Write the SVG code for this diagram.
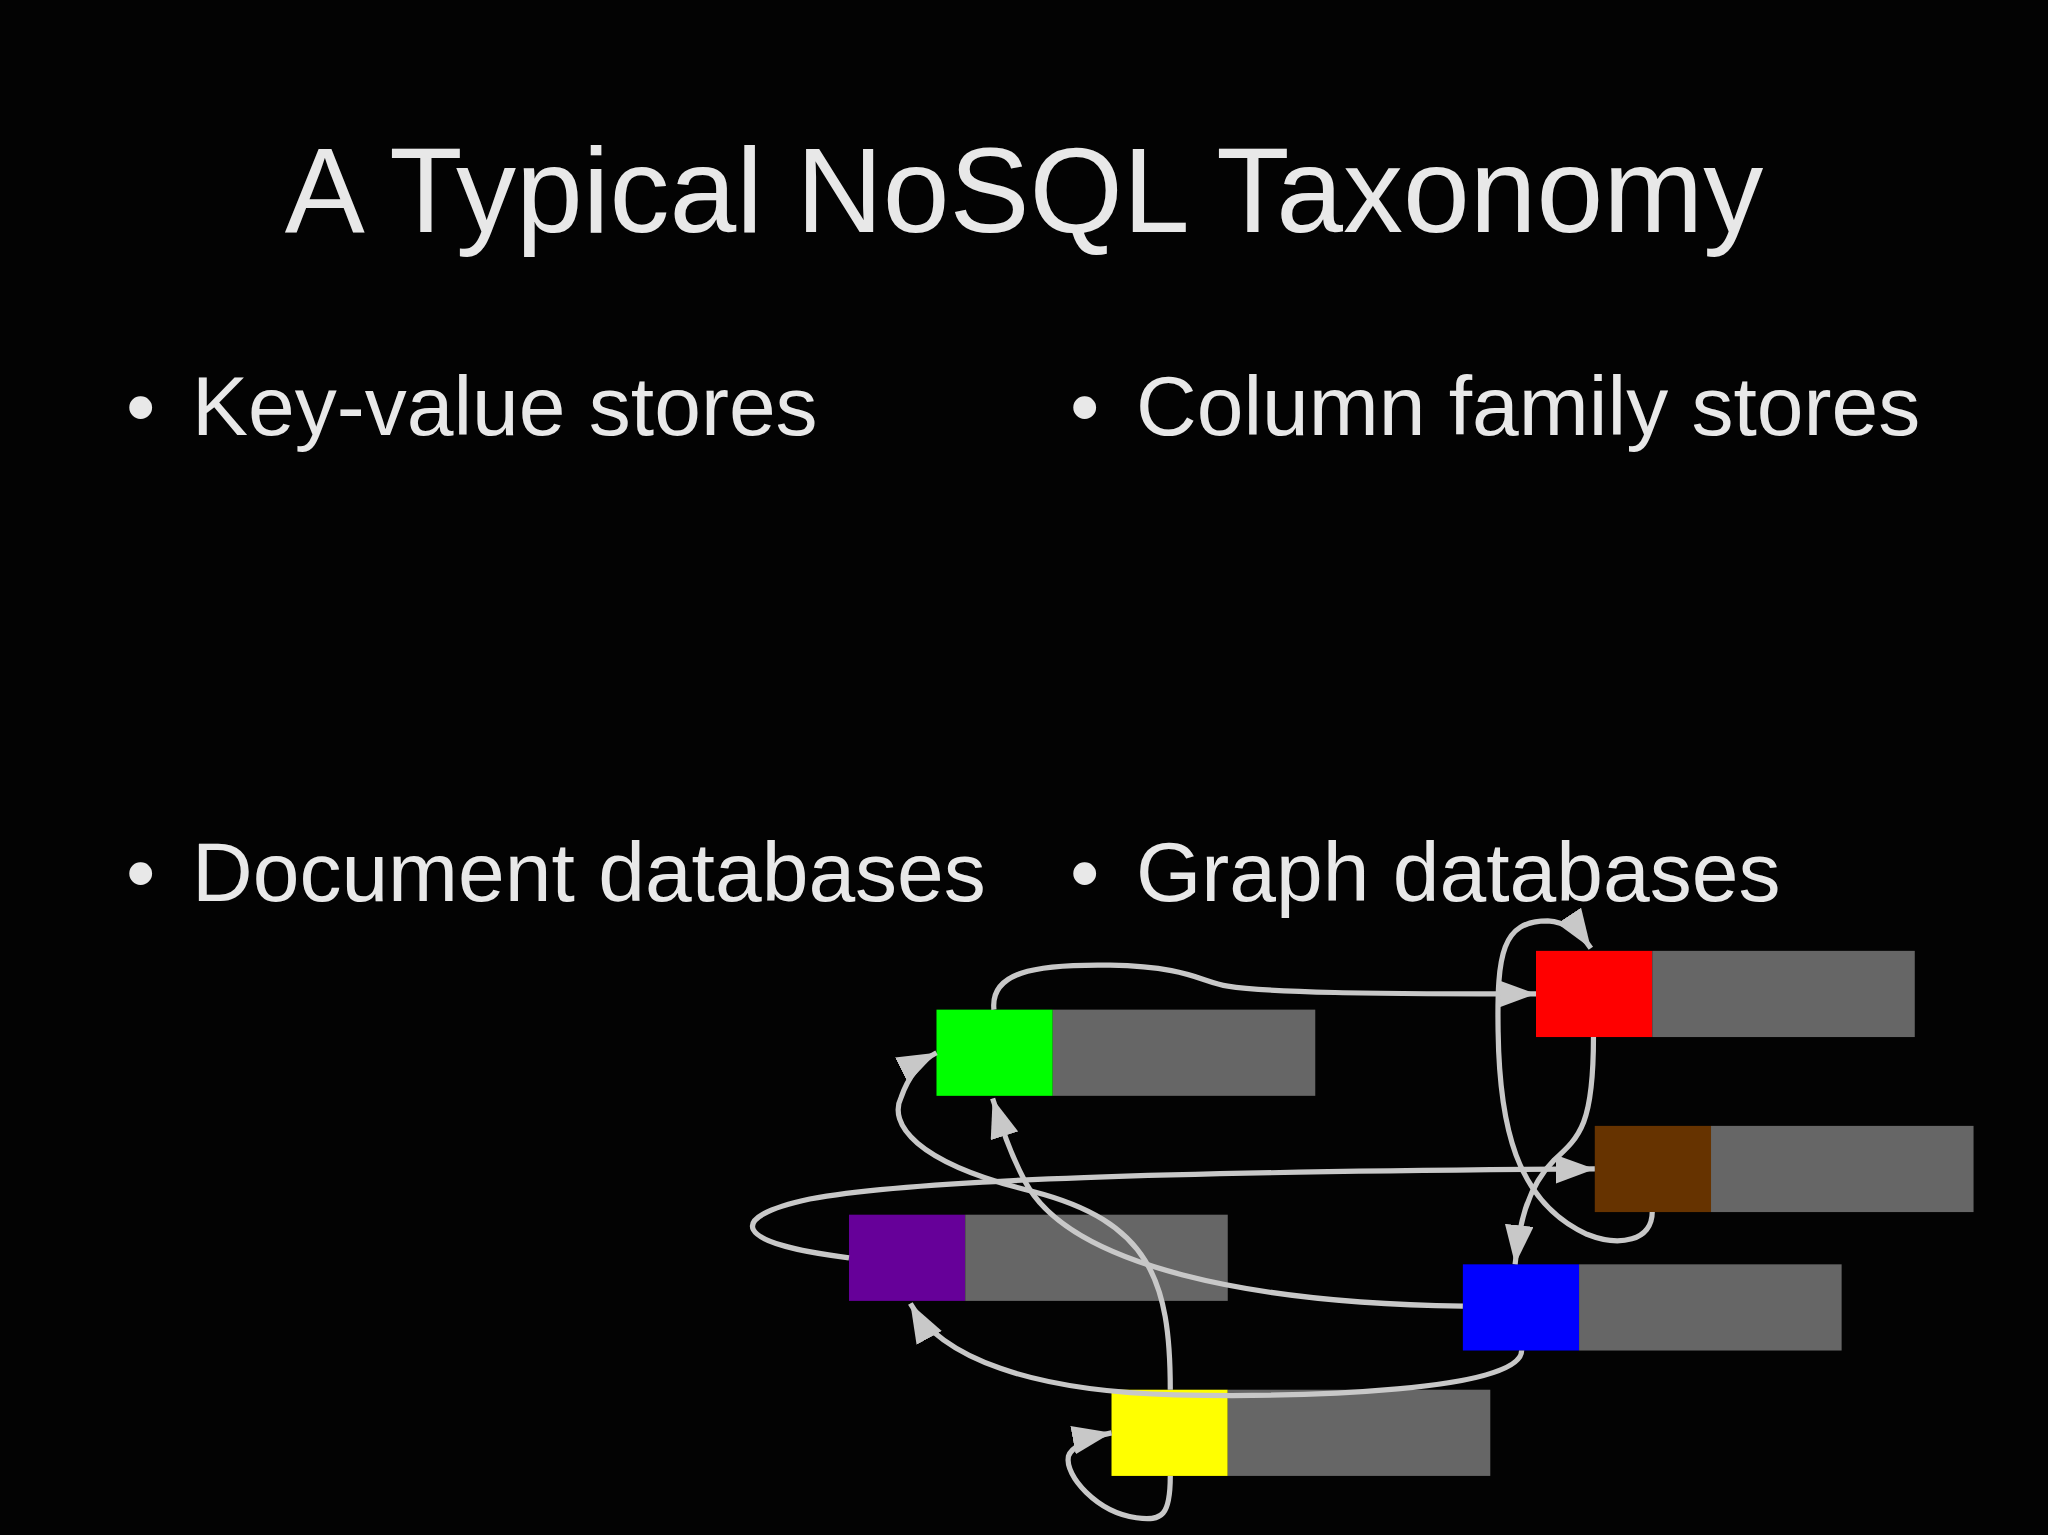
<svg xmlns="http://www.w3.org/2000/svg" width="2048" height="1535" viewBox="0 0 2048 1535">
<style>
.t{font-family:"Liberation Sans",Arial,sans-serif;fill:#e8e8e8}
.b{font-size:84px}
.g{fill:#666666}
.e{fill:none;stroke:#c8c8c8;stroke-width:4;marker-end:url(#a)}
</style>
<defs>
<marker id="a" markerUnits="userSpaceOnUse" markerWidth="34" markerHeight="24" refX="30" refY="11" orient="auto"><path d="M0,0 L30,11 L0,22 Z" fill="#c8c8c8"/></marker>
</defs>
<rect width="2048" height="1535" fill="#030303"/>
<text class="t" x="1024" y="232" font-size="120" text-anchor="middle">A Typical NoSQL Taxonomy</text>
<g id="bullets">
<text class="t b" x="126" y="435">•</text><text class="t b" x="192" y="435">Key-value stores</text>
<text class="t b" x="1070" y="435">•</text><text class="t b" x="1136" y="435">Column family stores</text>
<text class="t b" x="126" y="901">•</text><text class="t b" x="192" y="901">Document databases</text>
<text class="t b" x="1070" y="901">•</text><text class="t b" x="1136" y="901">Graph databases</text>
</g>
<g transform="scale(1.30612)">
<g id="green"><rect x="717" y="773" width="89" height="66" fill="#00ff00"/><rect class="g" x="806" y="773" width="201" height="66"/></g>
<g id="red"><rect x="1176" y="728" width="89" height="66" fill="#ff0000"/><rect class="g" x="1265" y="728" width="201" height="66"/></g>
<g id="brown"><rect x="1221" y="862" width="89" height="66" fill="#663300"/><rect class="g" x="1310" y="862" width="201" height="66"/></g>
<g id="purple"><rect x="650" y="930" width="89" height="66" fill="#660099"/><rect class="g" x="739" y="930" width="201" height="66"/></g>
<g id="blue"><rect x="1120" y="968" width="89" height="66" fill="#0000ff"/><rect class="g" x="1209" y="968" width="201" height="66"/></g>
<g id="yellow"><rect x="851" y="1064" width="89" height="66" fill="#ffff00"/><rect class="g" x="940" y="1064" width="201" height="66"/></g>
<g id="connectors">
<path class="e" d="M761,773 C758,745 790,738 850,739 C910,740 920,752 940,755 C970,760 1050,761 1176,761"/>
<path class="e" d="M1265,928 C1265,950 1240,955 1215,945 C1160,920 1148,860 1147,790 C1146,730 1150,705 1185,705 C1200,706 1210,714 1218,726"/>
<path class="e" d="M1220,794 C1220,860 1210,870 1190,888 C1168,910 1163,940 1160,968"/>
<path class="e" d="M650,963 C560,952 555,932 620,918 C700,903 900,897 1221,895"/>
<path class="e" d="M1120,1000 C960,998 820,970 785,905 C772,880 766,860 760,841"/>
<path class="e" d="M896,1064 C896,980 880,935 790,912 C700,890 680,860 690,840 C695,825 705,812 717,806"/>
<path class="e" d="M1165,1034 C1165,1065 1000,1070 900,1068 C790,1065 720,1040 697,998"/>
<path class="e" d="M896,1130 C896,1160 890,1165 870,1162 C840,1158 815,1130 818,1115 C820,1108 835,1100 851,1097"/>
</g>
</g>
</svg>
